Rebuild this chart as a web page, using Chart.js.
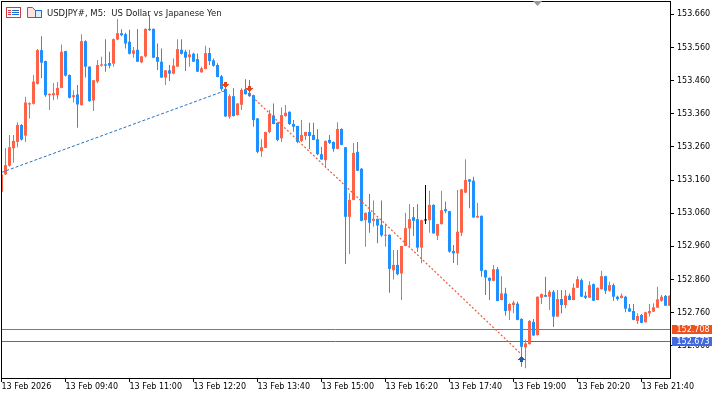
<!DOCTYPE html>
<html>
<head>
<meta charset="utf-8">
<script src="https://cdn.jsdelivr.net/npm/chart.js@4.4.1/dist/chart.umd.min.js"></script>
<style>
  html, body { margin: 0; padding: 0; background: #fff; }
  canvas { display: block; }
</style>
</head>
<body>
<canvas id="chart" width="719" height="395"></canvas>
<script>
// USDJPY#, M5 bars, 13 Feb 2026 08:20 .. 22:15 (index = bar number)
const opens = [
  153.125,153.177,153.203,153.256,153.275,153.326,153.294,153.388,153.390,153.450,
  153.552,153.519,153.416,153.416,153.416,153.438,153.549,153.477,153.410,153.418,
  153.386,153.579,153.502,153.400,153.457,153.505,153.509,153.513,153.511,153.584,
  153.603,153.600,153.577,153.541,153.553,153.515,153.533,153.616,153.616,153.531,
  153.517,153.469,153.491,153.481,153.502,153.553,153.547,153.531,153.541,153.525,
  153.485,153.495,153.543,153.521,153.507,153.473,153.435,153.351,153.413,153.356,
  153.387,153.434,153.423,153.416,153.346,153.247,153.257,153.305,153.355,153.333,
  153.286,153.353,153.366,153.329,153.323,153.278,153.293,153.305,153.296,153.283,
  153.238,153.220,153.281,153.275,153.254,153.314,153.259,153.049,153.100,153.245,
  153.194,153.039,153.064,153.037,153.043,153.025,152.992,152.995,152.888,152.904,
  152.878,152.961,153.014,153.048,153.042,152.956,153.038,153.039,153.085,152.992,
  153.027,153.072,153.066,152.946,152.939,153.001,153.122,153.162,153.158,153.047,
  153.052,152.888,152.865,152.856,152.891,152.798,152.818,152.766,152.783,152.787,
  152.741,152.655,152.665,152.732,152.692,152.805,152.813,152.808,152.823,152.748,
  152.801,152.783,152.811,152.798,152.835,152.858,152.811,152.805,152.846,152.798,
  152.831,152.870,152.826,152.843,152.808,152.804,152.808,152.773,152.765,152.735,
  152.753,152.731,152.758,152.763,152.775,152.796,152.810,152.781
];
const highs = [
  153.181,153.257,153.296,153.296,153.334,153.329,153.411,153.394,153.477,153.555,
  153.594,153.520,153.421,153.453,153.456,153.569,153.550,153.478,153.431,153.447,
  153.600,153.582,153.503,153.462,153.522,153.532,153.585,153.547,153.587,153.646,
  153.615,153.604,153.613,153.561,153.616,153.534,153.618,153.658,153.617,153.572,
  153.557,153.492,153.507,153.527,153.585,153.585,153.553,153.553,153.544,153.542,
  153.502,153.565,153.559,153.527,153.512,153.477,153.447,153.419,153.437,153.392,
  153.437,153.464,153.462,153.417,153.347,153.283,153.306,153.371,153.391,153.334,
  153.379,153.386,153.367,153.341,153.324,153.341,153.306,153.333,153.333,153.313,
  153.260,153.279,153.296,153.276,153.334,153.316,153.260,153.120,153.272,153.275,
  153.196,153.062,153.118,153.098,153.044,153.098,153.029,152.996,152.949,152.949,
  152.962,153.061,153.088,153.079,153.087,153.040,153.145,153.128,153.087,153.028,
  153.128,153.095,153.067,152.964,153.130,153.133,153.223,153.163,153.170,153.091,
  153.053,152.889,152.866,152.904,152.898,152.870,152.835,152.788,152.796,152.793,
  152.743,152.679,152.738,152.741,152.809,152.818,152.868,152.828,152.828,152.828,
  152.828,152.828,152.818,152.848,152.870,152.863,152.823,152.855,152.848,152.836,
  152.886,152.871,152.853,152.848,152.811,152.818,152.811,152.786,152.786,152.758,
  152.756,152.763,152.786,152.788,152.838,152.813,152.813,152.812
];
const lows = [
  153.121,153.175,153.201,153.212,153.259,153.279,153.275,153.346,153.388,153.448,
  153.468,153.411,153.371,153.401,153.404,153.437,153.472,153.406,153.394,153.318,
  153.385,153.469,153.396,153.368,153.452,153.502,153.487,153.497,153.502,153.582,
  153.594,153.557,153.539,153.529,153.516,153.512,153.530,153.610,153.528,153.492,
  153.468,153.447,153.459,153.479,153.501,153.539,153.489,153.502,153.516,153.486,
  153.484,153.494,153.507,153.502,153.470,153.428,153.350,153.345,153.352,153.355,
  153.371,153.418,153.411,153.321,153.241,153.230,153.256,153.301,153.328,153.277,
  153.275,153.351,153.326,153.306,153.271,153.275,153.281,153.254,153.280,153.235,
  153.221,153.198,153.269,153.245,153.253,153.265,152.907,152.937,153.099,153.187,
  153.036,152.959,153.001,153.019,152.969,152.989,152.959,152.820,152.860,152.873,
  152.798,152.960,152.959,152.991,152.944,152.909,153.027,153.001,152.998,152.979,
  153.026,153.060,152.941,152.910,152.904,152.991,153.121,153.075,153.046,153.046,
  152.868,152.813,152.798,152.855,152.794,152.797,152.751,152.738,152.758,152.737,
  152.597,152.592,152.664,152.690,152.691,152.786,152.807,152.768,152.717,152.747,
  152.758,152.773,152.797,152.797,152.834,152.807,152.801,152.804,152.795,152.797,
  152.830,152.816,152.823,152.796,152.796,152.803,152.761,152.762,152.737,152.726,
  152.728,152.730,152.748,152.762,152.774,152.793,152.780,152.780
];
const closes = [
  153.177,153.205,153.259,153.278,153.326,153.282,153.394,153.392,153.457,153.552,
  153.514,153.416,153.420,153.422,153.438,153.547,153.475,153.408,153.416,153.388,
  153.579,153.502,153.398,153.461,153.507,153.509,153.505,153.505,153.585,153.603,
  153.597,153.572,153.541,153.551,153.517,153.533,153.616,153.612,153.529,153.517,
  153.469,153.491,153.481,153.505,153.555,153.541,153.529,153.539,153.517,153.487,
  153.497,153.543,153.519,153.505,153.471,153.435,153.352,153.413,153.353,153.391,
  153.432,153.419,153.413,153.341,153.245,153.259,153.305,153.359,153.329,153.281,
  153.356,153.363,153.329,153.321,153.275,153.296,153.305,153.293,153.281,153.238,
  153.222,153.278,153.272,153.254,153.314,153.266,153.049,153.100,153.242,153.188,
  153.037,153.061,153.031,153.043,153.023,152.993,152.995,152.892,152.904,152.876,
  152.961,153.015,153.042,153.037,152.956,153.039,153.038,153.085,152.999,153.027,
  153.069,153.066,152.944,152.939,153.004,153.132,153.160,153.155,153.047,153.052,
  152.886,152.866,152.856,152.891,152.795,152.818,152.765,152.786,152.790,152.738,
  152.657,152.667,152.735,152.691,152.808,152.816,152.808,152.823,152.748,152.801,
  152.783,152.811,152.798,152.835,152.861,152.808,152.805,152.843,152.796,152.835,
  152.870,152.826,152.843,152.808,152.801,152.811,152.772,152.763,152.738,152.750,
  152.729,152.761,152.765,152.776,152.800,152.808,152.781,152.811
];

const yTicks = [153.660, 153.560, 153.460, 153.360, 153.260, 153.160, 153.060, 152.960, 152.860, 152.760, 152.660];
const xTickIdx = [0, 16, 32, 48, 64, 80, 96, 112, 128, 144, 160];
const xTickLabels = ['13 Feb 2026', '13 Feb 09:40', '13 Feb 11:00', '13 Feb 12:20', '13 Feb 13:40',
  '13 Feb 15:00', '13 Feb 16:20', '13 Feb 17:40', '13 Feb 19:00', '13 Feb 20:20', '13 Feb 21:40'];

const askPrice = 152.708;
const bidPrice = 152.673;
// trade history: [bar index, price]
const buyTrade = [[0, 153.183], [56, 153.430]];
const sellTrade = [[62, 153.419], [130, 152.634]];
const sellArrows = [[56, 153.447], [62, 153.435]];
const buyArrows = [[130, 152.620]];

const UP = '#ff6347', DOWN = '#1e90ff', FLAT = '#000000';
const ASK_COLOR = '#f0501e', BID_COLOR = '#4169e1';

function candleColor(i) {
  if (closes[i] > opens[i]) return UP;
  if (closes[i] < opens[i]) return DOWN;
  return FLAT;
}

function arrowImage(color, up) {
  const c = document.createElement('canvas');
  c.width = 7; c.height = 6;
  const g = c.getContext('2d');
  g.fillStyle = color;
  const rows = [[2, 3], [2, 3], [0, 7], [1, 5], [2, 3], [3, 1]];
  rows.forEach(([s, w], r) => g.fillRect(s, up ? 5 - r : r, w, 1));
  return c;
}

// keep the plot area fixed: no automatic label padding
function noPadding(s) {
  s.paddingTop = 0; s.paddingBottom = 0; s.paddingLeft = 0; s.paddingRight = 0;
}

const idx = opens.map((_, i) => i);
const colors = idx.map(candleColor);
const pts = arr => arr.map(([x, y]) => ({x: x, y: y}));

const decor = {
  id: 'decor',
  beforeDatasetsDraw(chart) {
    const {ctx, chartArea: a, scales: {y}} = chart;
    ctx.save();
    ctx.lineWidth = 1;
    [[askPrice, ASK_COLOR], [bidPrice, BID_COLOR]].forEach(([p, c]) => {
      const py = Math.floor(y.getPixelForValue(p)) + 0.5;
      ctx.strokeStyle = c;
      ctx.beginPath();
      ctx.moveTo(a.left, py);
      ctx.lineTo(a.right, py);
      ctx.stroke();
    });
    ctx.restore();
  },
  afterDatasetsDraw(chart) {
    const {ctx, chartArea: a} = chart;
    ctx.save();
    ctx.strokeStyle = '#000';
    ctx.lineWidth = 1;
    ctx.strokeRect(a.left + 0.5, a.top + 0.5, a.right - a.left, a.bottom - a.top);
    ctx.restore();
  },
  afterDraw(chart) {
    const {ctx, chartArea: a, scales: {y}} = chart;
    ctx.save();
    // price tags
    ctx.font = '8px "DejaVu Sans"';
    ctx.textBaseline = 'middle';
    ctx.textAlign = 'left';
    [[askPrice, ASK_COLOR], [bidPrice, BID_COLOR]].forEach(([p, c]) => {
      const py = y.getPixelForValue(p);
      ctx.fillStyle = c;
      ctx.fillRect(a.right + 2, Math.round(py - 4.5), 40, 9);
      ctx.fillStyle = '#fff';
      ctx.fillText(p.toFixed(3), a.right + 6.5, py + 0.5);
    });

    // chart shift marker
    ctx.fillStyle = '#999';
    ctx.beginPath();
    ctx.moveTo(533, 1);
    ctx.lineTo(542, 1);
    ctx.lineTo(537.5, 6);
    ctx.closePath();
    ctx.fill();

    // header icons
    ctx.lineWidth = 1;
    ctx.strokeStyle = '#d9363e';
    ctx.fillStyle = '#fff';
    ctx.fillRect(6, 7, 15, 11);
    ctx.strokeRect(6.5, 7.5, 14, 10);
    [10.5, 12.5, 14.5].forEach(ly => {
      ctx.strokeStyle = '#d9363e';
      ctx.beginPath(); ctx.moveTo(8, ly); ctx.lineTo(11, ly); ctx.stroke();
      ctx.strokeStyle = '#1e6fd0';
      ctx.beginPath(); ctx.moveTo(12, ly); ctx.lineTo(19, ly); ctx.stroke();
    });
    ctx.fillStyle = '#fbe3e3';
    ctx.strokeStyle = '#d9363e';
    ctx.beginPath();
    ctx.moveTo(27.5, 7.5); ctx.lineTo(32.5, 7.5); ctx.lineTo(35.5, 10.5);
    ctx.lineTo(35.5, 17.5); ctx.lineTo(27.5, 17.5); ctx.closePath();
    ctx.fill(); ctx.stroke();
    ctx.fillStyle = '#dcecfb';
    ctx.strokeStyle = '#1e6fd0';
    ctx.fillRect(35, 10, 7, 8);
    ctx.strokeRect(35.5, 10.5, 6, 7);

    // title
    ctx.fillStyle = '#222';
    ctx.font = '8.5px "DejaVu Sans"';
    ctx.textBaseline = 'alphabetic';
    ctx.fillText('USDJPY#, M5:  US Dollar vs Japanese Yen', 47, 16);
    ctx.restore();
  }
};

Chart.defaults.font.family = 'DejaVu Sans';
Chart.defaults.font.size = 8;
Chart.defaults.color = '#000';

new Chart(document.getElementById('chart'), {
  type: 'bar',
  data: {
    datasets: [
      {
        type: 'line', label: 'sell deals', data: pts(sellArrows), showLine: false,
        pointStyle: arrowImage('#e8421c', false), pointRadius: 3, order: 1
      },
      {
        type: 'line', label: 'buy deals', data: pts(buyArrows), showLine: false,
        pointStyle: arrowImage('#1b5ea8', true), pointRadius: 3, order: 1
      },
      {
        type: 'line', label: 'buy trade', data: pts(buyTrade), borderColor: '#2a70c0',
        borderWidth: 1, borderDash: [3, 2], pointRadius: 0, order: 2
      },
      {
        type: 'line', label: 'sell trade', data: pts(sellTrade), borderColor: '#ec5a38',
        borderWidth: 1.2, borderDash: [2, 2], pointRadius: 0, order: 2
      },
      {
        label: 'bodies', data: idx.map(i => ({x: i, y: [opens[i], closes[i]]})),
        backgroundColor: colors, barThickness: 3, minBarLength: 1, order: 4
      },
      {
        label: 'wicks', data: idx.map(i => ({x: i, y: [lows[i], highs[i]]})),
        backgroundColor: colors, barThickness: 1, order: 5
      }
    ]
  },
  options: {
    responsive: false,
    animation: false,
    devicePixelRatio: 1,
    layout: {autoPadding: false, padding: {left: 1, top: 1, right: 0, bottom: 0}},
    datasets: {bar: {grouped: false, inflateAmount: 0, borderWidth: 0}},
    plugins: {legend: {display: false}, tooltip: {enabled: false}},
    scales: {
      x: {
        type: 'linear', position: 'bottom', min: -0.125, max: 167.125, offset: false, bounds: 'data',
        grid: {drawOnChartArea: false, offset: false, tickLength: 4, color: '#000'},
        border: {display: false},
        ticks: {
          align: 'start', padding: 0.5, maxRotation: 0, autoSkip: false,
          callback: v => xTickLabels[xTickIdx.indexOf(v)]
        },
        afterBuildTicks: s => { s.ticks = xTickIdx.map(v => ({value: v})); },
        afterFit: s => { s.height = 17; noPadding(s); }
      },
      y: {
        type: 'linear', position: 'right', min: 152.5628, max: 153.7001, bounds: 'data',
        grid: {drawOnChartArea: false, tickLength: 4, color: '#000'},
        border: {display: false},
        ticks: {padding: 3, callback: v => v.toFixed(3)},
        afterBuildTicks: s => { s.ticks = yTicks.map(v => ({value: v})); },
        afterFit: s => { s.width = 49; noPadding(s); }
      }
    }
  },
  plugins: [decor]
});
</script>
</body>
</html>
